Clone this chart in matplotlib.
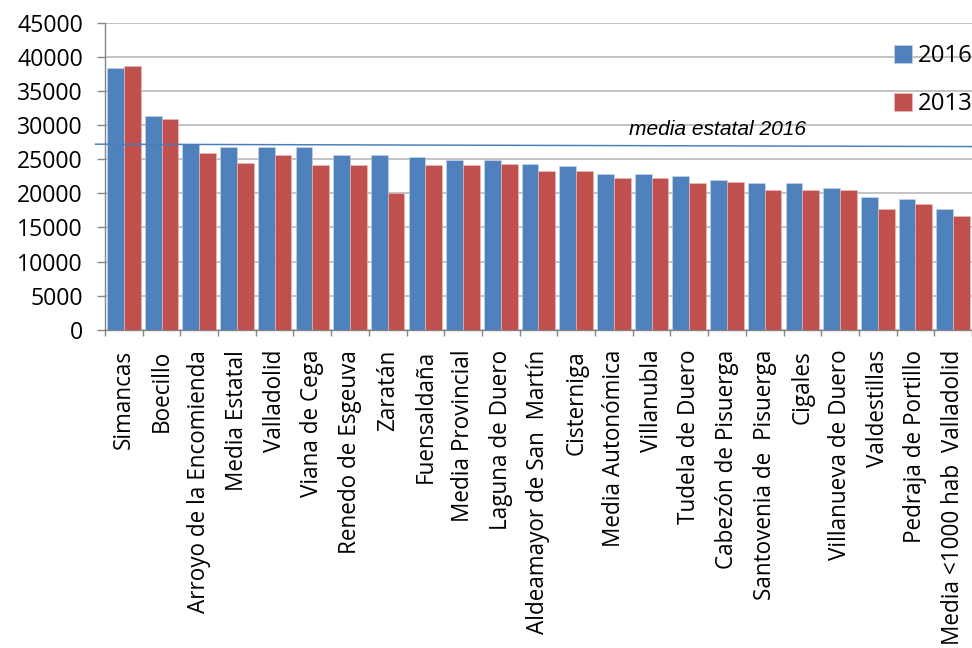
import matplotlib.pyplot as plt
import numpy as np

# Renta media por municipio, 2016 vs 2013
municipios = [
    "Simancas", "Boecillo", "Arroyo de la Encomienda", "Media Estatal",
    "Valladolid", "Viana de Cega", "Renedo de Esgeuva", "Zaratán",
    "Fuensaldaña", "Media Provincial", "Laguna de Duero",
    "Aldeamayor de San  Martín", "Cisterniga", "Media Autonómica",
    "Villanubla", "Tudela de Duero", "Cabezón de Pisuerga",
    "Santovenia de  Pisuerga", "Cigales", "Villanueva de Duero",
    "Valdestillas", "Pedraja de Portillo", "Media <1000 hab  Valladolid",
]
renta_2016 = [38400, 31400, 27200, 26750, 26750, 26750, 25600, 25600,
              25300, 24950, 24950, 24350, 24050, 22900, 22900, 22600,
              22000, 21450, 21450, 20850, 19400, 19100, 17650]
renta_2013 = [38700, 30850, 25850, 24400, 25600, 24100, 24100, 20000,
              24100, 24100, 24350, 23200, 23200, 22300, 22300, 21450,
              21700, 20550, 20550, 20550, 17650, 18500, 16750]
media_estatal_2016 = [27200, 26850]  # drawn line, left end / right end

y_ticks = np.arange(0, 45001, 5000)

blue = "#4F81BD"
red = "#C0504D"

fig = plt.figure(figsize=(13.5, 9), dpi=72)
ax = fig.add_axes([0.108, 0.491, 0.892, 0.474])

x = np.arange(len(municipios))
w = 0.445
ax.bar(x - w / 2, renta_2016, w, color=blue, edgecolor="#c9d6ea", linewidth=0.6,
       label="2016", zorder=3)
ax.bar(x + w / 2, renta_2013, w, color=red, edgecolor="#e6c0bf", linewidth=0.6,
       label="2013", zorder=3)

# media estatal line (slightly sloped, as drawn in the original)
ax.plot([-0.75, len(municipios) - 0.5], media_estatal_2016, color="#4A7EBB",
        linewidth=1.5, zorder=4, clip_on=False)
ax.text(15.75, 27900, "media estatal 2016", fontsize=21, style="italic",
        family="Liberation Sans", ha="center", va="bottom", zorder=5)

ax.set_xlim(-0.5, len(municipios) - 0.5)
ax.set_ylim(0, 45000)
ax.set_yticks(y_ticks)
ax.yaxis.grid(True, color="#BEBEBE", linewidth=1.8, zorder=0)
ax.set_axisbelow(True)

ax.set_xticks(x)
ax.set_xticklabels(municipios, rotation=90, fontsize=22.5, family="Open Sans",
                   va="top", ha="center")
ax.tick_params(axis="x", length=0, pad=20)
ax.set_xticks(np.arange(-0.5, len(municipios), 1), minor=True)
ax.tick_params(axis="x", which="minor", length=6, width=1.4, color="#868686")
ax.tick_params(axis="y", length=8, width=1.4, color="#868686", labelsize=23,
               pad=14)
for lab in ax.get_yticklabels():
    lab.set_family("Open Sans")

for side in ["top", "right"]:
    ax.spines[side].set_visible(False)
for side in ["left", "bottom"]:
    ax.spines[side].set_color("#868686")
    ax.spines[side].set_linewidth(1.4)

leg = ax.legend(loc="upper left", bbox_to_anchor=(0.91, 0.93), frameon=False,
                prop={"family": "Open Sans", "size": 24}, handlelength=0.75,
                handleheight=0.75, handletextpad=0.25, labelspacing=1.0,
                borderaxespad=0, borderpad=0)

fig.savefig("out.png", dpi=72)
